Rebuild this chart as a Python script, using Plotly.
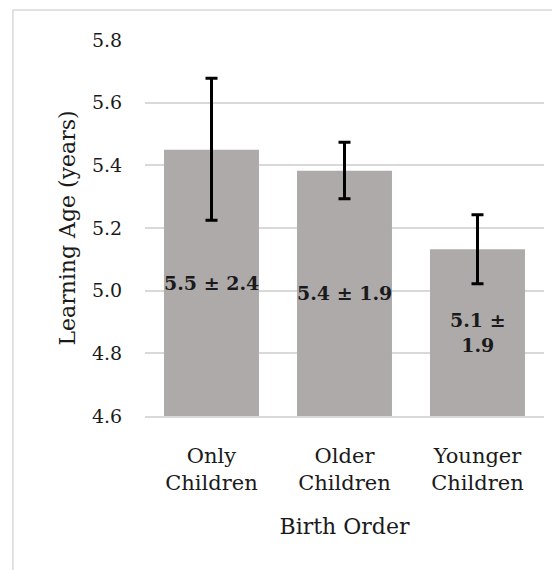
import plotly.graph_objects as go

categories = ["Only<br>Children", "Older<br>Children", "Younger<br>Children"]
means = [5.45, 5.383, 5.132]
err_plus = [0.228, 0.091, 0.11]
err_minus = [0.225, 0.09, 0.11]
bar_labels = ["5.5 ± 2.4", "5.4 ± 1.9", "5.1 ±<br>1.9"]
y_ticks = [4.6, 4.8, 5.0, 5.2, 5.4, 5.6, 5.8]
y_min, y_max = 4.6, 5.8

FONT = "DejaVu Serif"
TXT = "#1a1a1a"

fig = go.Figure()
fig.add_trace(go.Bar(
    x=categories, y=[m - y_min for m in means], base=y_min,
    marker=dict(color="#AEAAAA", line=dict(width=0)),
    error_y=dict(type="data", symmetric=False, array=err_plus, arrayminus=err_minus,
                 color="black", thickness=3, width=6),
    hoverinfo="skip",
))

for c, m, t in zip(categories, means, bar_labels):
    fig.add_annotation(x=c, y=(y_min + m) / 2, text="<b>" + t + "</b>", showarrow=False,
                       font=dict(family=FONT, size=19, color=TXT), align="center")

fig.add_shape(type="rect", xref="paper", yref="paper", x0=-0.331, x1=1.08, y0=-0.6, y1=1.0798,
              line=dict(color="#D9D9D9", width=1.5), fillcolor="rgba(0,0,0,0)", layer="below")

# page has an 8px body margin; the figure is sized so it fits the 560x570 window
fig.update_layout(
    width=552, height=562,
    margin=dict(l=137, r=16, t=32, b=154),
    paper_bgcolor="white", plot_bgcolor="white",
    bargap=0.286, showlegend=False,
    font=dict(family=FONT, size=19, color=TXT),
)
fig.update_xaxes(
    showgrid=False, showline=True, linecolor="#D9D9D9", linewidth=1.5,
    ticks="outside", ticklen=20, tickcolor="rgba(0,0,0,0)",
    tickfont=dict(family=FONT, size=21, color=TXT),
    title=dict(text="Birth Order", font=dict(family=FONT, size=22, color=TXT), standoff=24),
)
fig.update_yaxes(
    range=[y_min, y_max], tickvals=y_ticks, ticktext=[f"{v:.1f}" for v in y_ticks],
    showgrid=True, gridcolor="#D9D9D9", gridwidth=1.5, zeroline=False,
    ticks="outside", ticklen=18, tickcolor="rgba(0,0,0,0)",
    tickfont=dict(family=FONT, size=19, color=TXT),
    title=dict(text="Learning Age (years)", font=dict(family=FONT, size=22, color=TXT), standoff=10),
)

fig.write_html("out.html")
